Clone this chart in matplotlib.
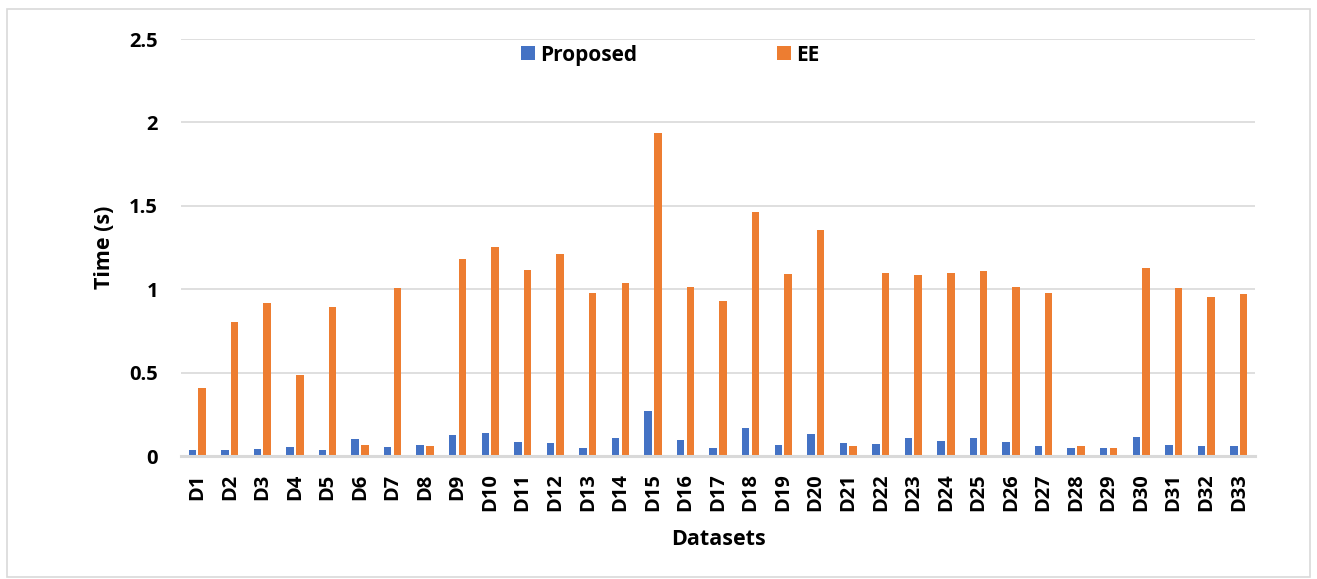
import matplotlib
matplotlib.use("Agg")
import matplotlib.pyplot as plt
import matplotlib.patches as patches
import numpy as np

datasets = ["D" + str(i) for i in range(1, 34)]
proposed = [0.038, 0.036, 0.043, 0.056, 0.038, 0.103, 0.054, 0.068, 0.125, 0.137,
            0.086, 0.076, 0.048, 0.111, 0.268, 0.095, 0.048, 0.170, 0.066, 0.133,
            0.079, 0.073, 0.111, 0.091, 0.111, 0.082, 0.062, 0.048, 0.050, 0.117,
            0.066, 0.058, 0.058]
ee = [0.406, 0.802, 0.920, 0.488, 0.894, 0.064, 1.010, 0.060, 1.184, 1.252,
      1.118, 1.214, 0.976, 1.040, 1.934, 1.012, 0.932, 1.460, 1.090, 1.356,
      0.063, 1.096, 1.084, 1.096, 1.110, 1.012, 0.976, 0.060, 0.050, 1.130,
      1.008, 0.952, 0.972]

blue = "#4472c4"
orange = "#ed7d31"
grid_col = "#d9d9d9"

plt.rcParams['font.family'] = ['Open Sans', 'DejaVu Sans']
plt.rcParams['font.weight'] = 'bold'

fig = plt.figure(figsize=(13.17, 5.79), dpi=100)
ax = fig.add_axes([0.1374, 0.2124, 0.8156, 0.7202])

x = np.arange(len(datasets))
w = 0.23
ax.bar(x - 0.15, proposed, w, color=blue, label="Proposed", zorder=3)
ax.bar(x + 0.15, ee, w, color=orange, label="EE", zorder=3)

ax.set_xlim(-0.5, len(datasets) - 0.5)
ax.set_ylim(0, 2.5)
ax.set_yticks([0, 0.5, 1, 1.5, 2, 2.5])
ax.set_yticklabels(["0", "0.5", "1", "1.5", "2", "2.5"])
ax.set_xticks(x)
ax.set_xticklabels(datasets, rotation=90)
ax.tick_params(axis='both', length=0, labelsize=14.5)
ax.tick_params(axis='y', pad=16.5)
ax.tick_params(axis='x', pad=12.5)
for lab in ax.get_xticklabels() + ax.get_yticklabels():
    lab.set_fontweight('bold')

ax.grid(axis='y', color=grid_col, linewidth=1.2, zorder=0)
for s in ['top', 'right', 'left']:
    ax.spines[s].set_visible(False)
ax.spines['bottom'].set_color(grid_col)
ax.spines['bottom'].set_linewidth(2.2)
ax.spines['bottom'].set_zorder(4)

ax.set_ylabel("Time (s)", fontsize=15.5, fontweight='bold', labelpad=10.5)
ax.set_xlabel("Datasets", fontsize=15.5, fontweight='bold', labelpad=13)

leg = fig.legend(loc='center', bbox_to_anchor=(0.509, 0.905), ncol=2, frameon=False,
                 fontsize=15, handlelength=0.68, handleheight=0.68,
                 handletextpad=0.25, columnspacing=6.7)
for t in leg.get_texts():
    t.set_fontweight('bold')

fig.patches.append(patches.Rectangle((7 / 1317, 2 / 579), 1303 / 1317, 568 / 579,
                                     transform=fig.transFigure, fill=False,
                                     edgecolor=grid_col, linewidth=1.2))

fig.savefig("out.png", dpi=100)
